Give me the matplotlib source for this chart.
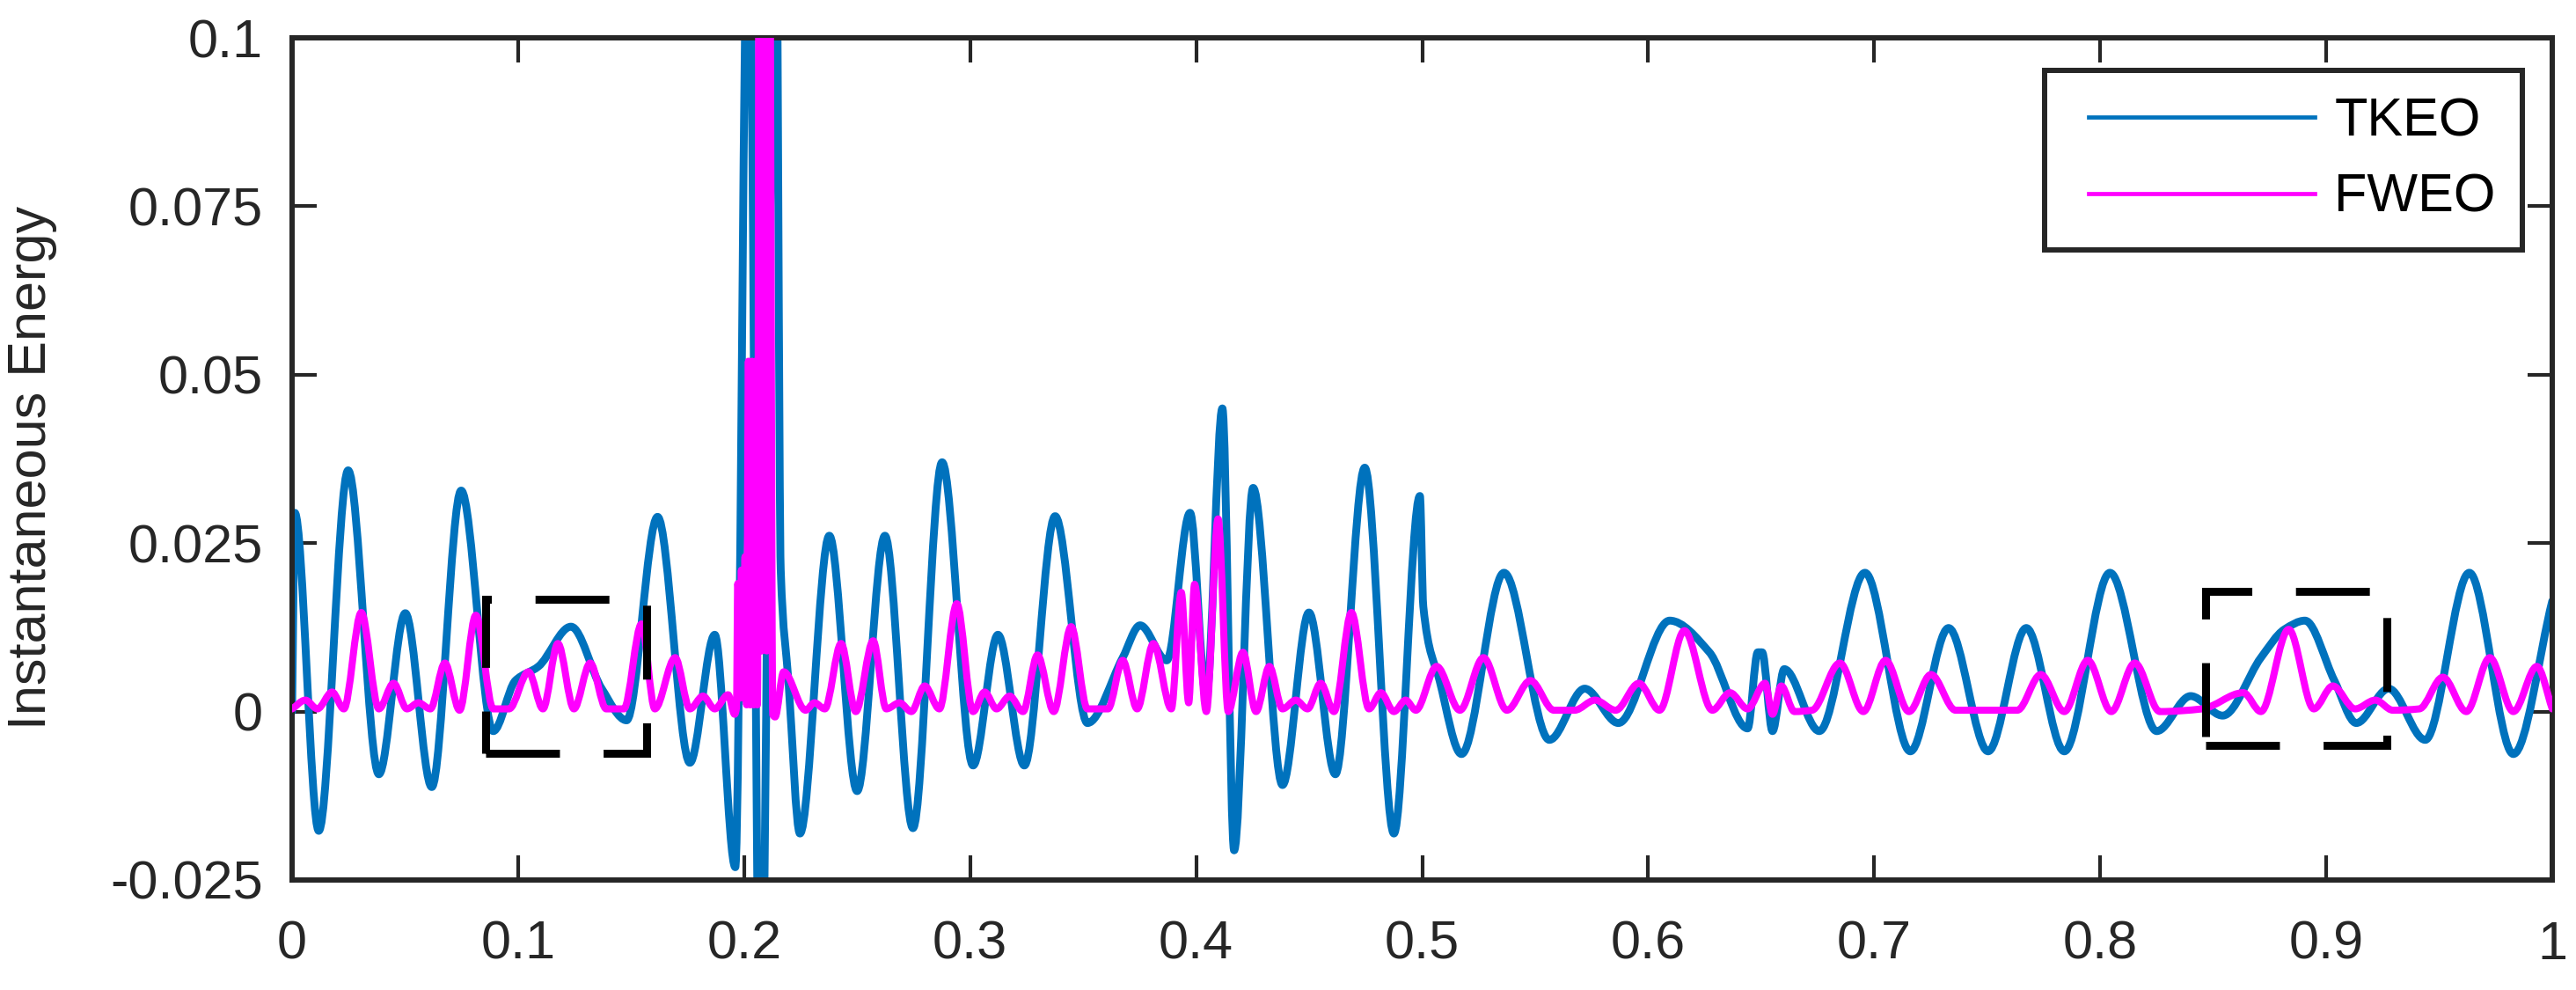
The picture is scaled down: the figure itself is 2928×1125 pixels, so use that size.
import numpy as np
import matplotlib
matplotlib.use("Agg")
import matplotlib.pyplot as plt
from matplotlib.path import Path
from matplotlib.patches import PathPatch, Rectangle
from matplotlib.lines import Line2D
from matplotlib.legend_handler import HandlerLine2D

# ---------------- data (energy in 1e-3) ----------------
tkeo_x = [0.0, 0.0012, 0.0118, 0.0248, 0.0384, 0.0501, 0.0618, 0.0748, 0.0890, 0.0988,
          0.1090, 0.1234, 0.1370, 0.1480, 0.1617, 0.1760, 0.1870, 0.1961, 0.2020, 0.2072,
          0.2140, 0.2162, 0.2196, 0.2247, 0.2377, 0.2500, 0.2623, 0.2747, 0.2876, 0.3013,
          0.3123, 0.3240, 0.3376, 0.3519, 0.3675, 0.3752, 0.3870, 0.3973, 0.4045, 0.4116,
          0.4168, 0.4252, 0.4382, 0.4499, 0.4616, 0.4746, 0.4875, 0.4990, 0.5005, 0.5077,
          0.5174, 0.5362, 0.5563, 0.5719, 0.5868, 0.6095, 0.6271, 0.6440, 0.6485, 0.6504,
          0.6550, 0.6602, 0.6757, 0.6959, 0.7160, 0.7329, 0.7504, 0.7673, 0.7841, 0.8043,
          0.8250, 0.8400, 0.8542, 0.8711, 0.8815, 0.8906, 0.9036, 0.9133, 0.9276, 0.9438,
          0.9633, 0.9828, 1.0]
tkeo_y = [0.0, 29.5, -17.7, 35.8, -9.3, 14.6, -11.2, 32.8, -2.9, 4.6,
          6.7, 12.6, 3.4, -1.3, 28.9, -7.6, 11.4, -23.1, 130.0, -60.0,
          130.0, 21.0, 4.6, -18.1, 26.1, -11.8, 26.1, -17.3, 37.0, -8.0,
          11.4, -8.0, 29.0, -1.7, 8.0, 12.8, 7.6, 29.5, 2.1, 45.0,
          -20.6, 33.2, -10.9, 14.7, -9.3, 36.2, -18.1, 32.0, 15.6, 4.6,
          -6.3, 20.6, -4.2, 3.4, -1.7, 13.5, 8.8, -2.5, 8.8, 8.8,
          -2.9, 6.3, -2.9, 20.6, -5.9, 12.4, -5.9, 12.4, -5.9, 20.6,
          -2.9, 2.3, -0.6, 8.0, 12.2, 13.5, 4.6, -1.7, 3.4, -4.2,
          20.6, -6.3, 16.4]

fweo_x = [0.0, 0.0059, 0.0112, 0.0177, 0.0229, 0.0306, 0.0384, 0.0449, 0.0508, 0.0559,
          0.0612, 0.0676, 0.0741, 0.0813, 0.0890, 0.0960, 0.1046, 0.1110, 0.1176, 0.1247,
          0.1319, 0.1390, 0.1468, 0.1546, 0.1605, 0.1695, 0.1760, 0.1818, 0.1870, 0.1929,
          0.1958, 0.1966, 0.1972, 0.1980, 0.1988, 0.1996, 0.2004, 0.2011, 0.2019, 0.2027,
          0.2035, 0.2043, 0.2051, 0.2059, 0.2067, 0.2078, 0.2089, 0.2100, 0.2111, 0.2127,
          0.2137, 0.2175, 0.2272, 0.2311, 0.2357, 0.2429, 0.2494, 0.2571, 0.2629, 0.2688,
          0.2740, 0.2799, 0.2864, 0.2941, 0.3013, 0.3064, 0.3117, 0.3175, 0.3234, 0.3298,
          0.3370, 0.3447, 0.3519, 0.3610, 0.3675, 0.3739, 0.3811, 0.3890, 0.3934, 0.3967,
          0.3993, 0.4045, 0.4097, 0.4142, 0.4207, 0.4265, 0.4324, 0.4382, 0.4441, 0.4493,
          0.4551, 0.4610, 0.4687, 0.4765, 0.4817, 0.4875, 0.4927, 0.4972, 0.5064, 0.5167,
          0.5271, 0.5375, 0.5479, 0.5583, 0.5674, 0.5765, 0.5856, 0.5959, 0.6050, 0.6160,
          0.6284, 0.6362, 0.6440, 0.6517, 0.6550, 0.6589, 0.6647, 0.6725, 0.6848, 0.6952,
          0.7050, 0.7154, 0.7251, 0.7360, 0.7633, 0.7737, 0.7841, 0.7945, 0.8049, 0.8153,
          0.8264, 0.8451, 0.8633, 0.8711, 0.8834, 0.8945, 0.9029, 0.9128, 0.9217, 0.9295,
          0.9412, 0.9516, 0.9620, 0.9724, 0.9828, 0.9932, 1.0]
fweo_y = [0.4, 1.7, 0.4, 2.9, 0.4, 14.7, 0.4, 4.2, 0.4, 1.3,
          0.4, 7.2, 0.2, 14.3, 0.4, 0.4, 5.9, 0.4, 10.1, 0.4,
          7.2, 0.4, 0.4, 13.0, 0.4, 8.0, 0.4, 2.3, 0.4, 2.5,
          -0.4, 0.5, 19.0, 2.0, 21.0, 2.0, 23.0, 1.0, 52.0, 1.0,
          52.0, 1.0, 52.0, 1.0, 140.0, 9.0, 140.0, 9.0, 140.0, -0.5,
          -0.8, 5.9, 0.2, 1.3, 0.4, 10.1, 0.0, 10.5, 0.4, 1.3,
          0.0, 3.8, 0.4, 16.0, 0.0, 2.9, 0.4, 2.3, 0.0, 8.4,
          0.0, 12.6, 0.4, 0.4, 7.6, 0.4, 10.1, 0.4, 17.7, 1.3,
          18.9, 0.0, 28.6, 0.0, 8.8, 0.0, 6.7, 0.4, 1.7, 0.4,
          4.2, 0.0, 14.7, 0.4, 2.8, 0.0, 1.7, 0.2, 6.7, 0.2,
          8.0, 0.2, 4.6, 0.2, 0.2, 1.7, 0.2, 4.2, 0.2, 12.0,
          0.2, 2.8, 0.4, 4.2, -0.4, 3.8, 0.0, 0.2, 7.2, 0.0,
          7.6, 0.0, 5.5, 0.2, 0.2, 5.5, 0.0, 7.6, 0.0, 7.2,
          0.0, 0.4, 2.8, 0.0, 12.2, 0.4, 3.8, 0.4, 1.7, 0.2,
          0.4, 5.1, 0.0, 8.0, 0.0, 6.7, 0.4]

value_scale = 1e-3
series_labels = ["TKEO", "FWEO"]
series_colors = ["#0072BD", "#FF00FF"]

# highlighted regions (x0, x1, y0, y1)
box_regions = [(0.0857, 0.1570, -0.0062, 0.0167),
               (0.8466, 0.9268, -0.0050, 0.0178)]

x_ticks = [0, 0.1, 0.2, 0.3, 0.4, 0.5, 0.6, 0.7, 0.8, 0.9, 1]
x_tick_labels = ["0", "0.1", "0.2", "0.3", "0.4", "0.5", "0.6", "0.7", "0.8", "0.9", "1"]
y_ticks = [-0.025, 0, 0.025, 0.05, 0.075, 0.1]
y_tick_labels = ["-0.025", "0", "0.025", "0.05", "0.075", "0.1"]
y_label = "Instantaneous Energy"


def smooth_path(xs, ys):
    """Monotone cubic (Fritsch-Carlson) rendering of the read points as a Bezier path."""
    xs = np.asarray(xs, float)
    ys = np.asarray(ys, float)
    n = len(xs)
    h = np.diff(xs)
    d = np.diff(ys) / h
    m = np.zeros(n)
    m[0] = d[0]
    m[-1] = d[-1]
    for k in range(1, n - 1):
        if d[k - 1] * d[k] <= 0:
            m[k] = 0.0
        else:
            w1 = 2 * h[k] + h[k - 1]
            w2 = h[k] + 2 * h[k - 1]
            m[k] = (w1 + w2) / (w1 / d[k - 1] + w2 / d[k])
    verts = [(xs[0], ys[0])]
    codes = [Path.MOVETO]
    for i in range(n - 1):
        hh = h[i]
        verts += [(xs[i] + hh / 3, ys[i] + m[i] * hh / 3),
                  (xs[i + 1] - hh / 3, ys[i + 1] - m[i + 1] * hh / 3),
                  (xs[i + 1], ys[i + 1])]
        codes += [Path.CURVE4] * 3
    return Path(verts, codes)


plt.rcParams['font.family'] = ['Liberation Sans', 'DejaVu Sans']
plt.rcParams['font.size'] = 44

W, H = 2928, 1125
fig = plt.figure(figsize=(W / 100, H / 100), dpi=100)
ax = fig.add_axes([332 / W, 1 - 1000 / H, 2569 / W, 957 / H])

lws = [6.4, 5.8]
for xs, ys, col, lw, z in [(tkeo_x, tkeo_y, series_colors[0], lws[0], 2),
                           (fweo_x, fweo_y, series_colors[1], lws[1], 3)]:
    p = smooth_path(xs, np.asarray(ys) * value_scale)
    patch = PathPatch(p, fill=False, edgecolor=col, lw=lw, zorder=z,
                      joinstyle='round', capstyle='round')
    ax.add_patch(patch)

for (x0, x1, y0, y1) in box_regions:
    r = Rectangle((x0, y0), x1 - x0, y1 - y0, fill=False, edgecolor='black',
                  lw=6.5, linestyle=(0, (9.3, 5.5)), zorder=5)
    ax.add_patch(r)

ax.set_xlim(0, 1)
ax.set_ylim(-0.025, 0.1)
ax.set_xticks(x_ticks)
ax.set_xticklabels(x_tick_labels)
ax.set_yticks(y_ticks)
ax.set_yticklabels(y_tick_labels)

ax.tick_params(axis='both', direction='in', length=20, width=3, colors='#262626',
               top=True, right=True, labelcolor='#262626')
ax.tick_params(axis='y', pad=24)
ax.tick_params(axis='x', pad=33)
for s in ax.spines.values():
    s.set_linewidth(4.3)
    s.set_color('#262626')

ax.set_ylabel(y_label, color='#262626')
ax.yaxis.set_label_coords(-0.104, 0.49)

handles = [Line2D([], [], color=series_colors[0], lw=3.4),
           Line2D([], [], color=series_colors[1], lw=3.4)]
leg = ax.legend(handles, series_labels, loc='upper right',
                bbox_to_anchor=(0.9868, 0.9613), borderaxespad=0,
                fontsize=44, handlelength=4.52, handletextpad=0.36,
                labelspacing=0.48, borderpad=0.5, fancybox=False,
                framealpha=1, edgecolor='#262626',
                handler_map={Line2D: HandlerLine2D(xpad=0.32)})
leg.get_frame().set_linewidth(4.3)
for t in leg.get_texts():
    t.set_color('#000000')

fig.savefig("out.png", dpi=100)
